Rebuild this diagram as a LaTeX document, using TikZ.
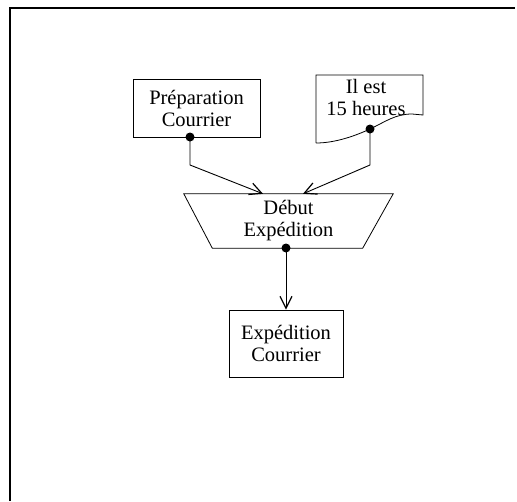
\documentclass[tikz,border=0pt]{standalone}
\usepackage{fontspec}
\setmainfont{Liberation Serif}
\usetikzlibrary{arrows.meta,calc}
\begin{document}
\begin{tikzpicture}[x=1pt,y=-1pt,
  lbl/.style={font=\fontsize{20.5}{22}\selectfont, align=center, inner sep=0pt},
  box/.style={lbl, draw, line width=0.8pt},
  shapeline/.style={line width=0.8pt},
  dot/.style={circle, fill=black, inner sep=0pt, minimum size=9pt},
  conn/.style={line width=0.9pt, -{Straight Barb[length=12pt,width=12pt,line width=1.2pt]}}]
\useasboundingbox (0,0) rectangle (517,501);
% page frame (top and left edges)
\draw[line width=1.6pt] (10,501) -- (10,8) -- (515,8);

% preparation step
\node[box, minimum width=127pt, minimum height=58pt] (prep) at (196.5,108) {Préparation\\Courrier};

% time event (document shape with wavy bottom)
\node[lbl] (ilest) at (366,97) {Il est\\15 heures};
\draw[shapeline] (316,143) -- (316,75) -- (423,75) -- (423,115) -- (412,114)
  .. controls (395,114) and (385,122) .. (370,129)
  .. controls (355,136) and (335,143) .. (316,143);

% synchronisation (inverted trapezium)
\node[lbl, minimum width=209pt, minimum height=54pt] (trap) at (288.5,221) {Début\\Expédition};
\draw[shapeline] (trap.north west) -- (trap.north east)
  -- ($(trap.south east)+(-30.5,0)$) -- ($(trap.south west)+(28.5,0)$) -- cycle;

% dispatch step
\node[box, minimum width=114pt, minimum height=67pt] (exp) at (286,343.5) {Expédition\\Courrier};

% output points
\node[dot] (d1) at (190,137) {};
\node[dot] (d2) at (370,129) {};
\node[dot] (d3) at (286,248) {};

% connectors
\draw[conn] (d1.center) -- ++(0,28) -- ($(trap.north)+(-25.5,0)$);
\draw[conn] (d2.center) -- ++(0,36) -- ($(trap.north)+(14.5,0)$);
\draw[conn] (d3.center) -- (exp.north);
\end{tikzpicture}
\end{document}
